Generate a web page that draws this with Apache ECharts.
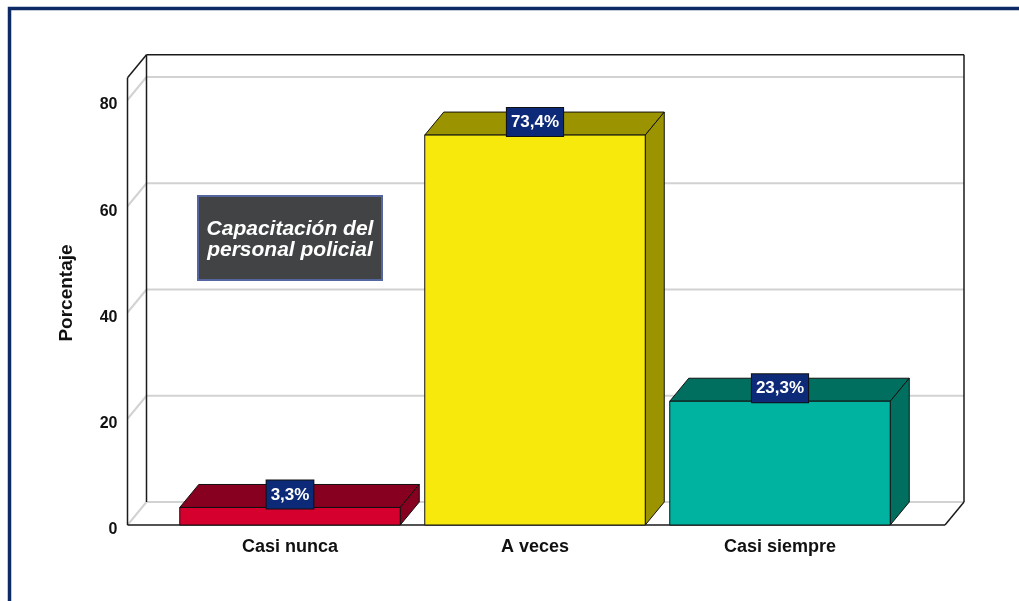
<!DOCTYPE html>
<html><head><meta charset="utf-8">
<script src="https://cdn.jsdelivr.net/npm/echarts@6/dist/echarts.min.js"></script>
<style>html,body{margin:0;padding:0;background:#fff}#c{width:1019px;height:601px}</style>
</head><body><div id="c"></div>
<script>
// ---- data ----
const categories = ['Casi nunca', 'A veces', 'Casi siempre'];
const percentages = [3.3, 73.4, 23.3];
const valueLabels = ['3,3%', '73,4%', '23,3%'];
const yTicks = [0, 20, 40, 60, 80];
const frontColors = ['#d6002f', '#f7e90b', '#00b3a0'];
const shadeColors = ['#870020', '#9b9400', '#006f5f'];
const noteLines = ['Capacitación del', 'personal policial'];
const yTitle = 'Porcentaje';

// ---- layout / style constants ----
const DX = 19, DY = -23;      // 3D depth offset
const BOX_TOP = 84.2;         // value at top of 3D box
const PAD_L = 40, PAD_R = 42.5;
const FONT = '"Liberation Sans", Arial, sans-serif';

const chart = echarts.init(document.getElementById('c'), null, {renderer: 'canvas'});

function wallLines(params, api) {
  const cs = params.coordSys;
  const xL = cs.x - PAD_L, xR = cs.x + cs.width + PAD_R;
  const y = api.coord([0, api.value(1)])[1];
  const st = {stroke: '#d2d2d2', lineWidth: 2};
  return {type: 'group', children: [
    {type: 'line', shape: {x1: xL + DX, y1: y + DY, x2: xR + DX, y2: y + DY}, style: st},
    {type: 'line', shape: {x1: xL, y1: y, x2: xL + DX, y2: y + DY}, style: st}
  ]};
}

function outline(params, api) {
  const cs = params.coordSys;
  const xL = cs.x - PAD_L, xR = cs.x + cs.width + PAD_R;
  const yB = api.coord([0, 0])[1];
  const yT = api.coord([0, BOX_TOP])[1];
  const st = {stroke: '#1a1a1a', lineWidth: 1.5};
  const L = (a, b, c, d) => ({type: 'line', shape: {x1: a, y1: b, x2: c, y2: d}, style: st});
  return {type: 'group', children: [
    L(xL, yT, xL, yB),
    L(xL, yT, xL + DX, yT + DY),
    L(xL + DX, yT + DY, xR + DX, yT + DY),
    L(xL + DX, yT + DY, xL + DX, yB + DY),
    L(xR + DX, yT + DY, xR + DX, yB + DY),
    L(xL, yB, xR, yB),
    L(xR + DX, yB + DY, xR, yB)
  ]};
}

function bar3d(params, api) {
  const i = api.value(0), v = api.value(1);
  const p = api.coord([i, v]);
  const b = api.coord([i, 0]);
  const bw = api.size([1, 0])[0] * 0.9;
  const x = p[0] - bw / 2, y = p[1], w = bw, yb = b[1];
  const line = {stroke: '#111', lineWidth: 1};
  return {type: 'group', children: [
    {type: 'polygon', shape: {points: [[x, y], [x + DX, y + DY], [x + w + DX, y + DY], [x + w, y]]},
      style: Object.assign({fill: shadeColors[i]}, line)},
    {type: 'polygon', shape: {points: [[x + w, y], [x + w + DX, y + DY], [x + w + DX, yb + DY], [x + w, yb]]},
      style: Object.assign({fill: shadeColors[i]}, line)},
    {type: 'rect', shape: {x: x, y: y, width: w, height: yb - y},
      style: Object.assign({fill: frontColors[i]}, line)},
    {type: 'text', z2: 10, style: {
      text: valueLabels[i], x: p[0], y: y + 1, align: 'center', verticalAlign: 'bottom',
      fill: '#fff', fontSize: 17, fontWeight: 'bold', fontFamily: FONT,
      backgroundColor: '#0d2a78', borderColor: '#111', borderWidth: 1,
      padding: [6, 4, 5, 4]
    }}
  ]};
}

const option = {
  animation: false,
  backgroundColor: '#fff',
  grid: {left: 167.5, right: 1019 - 902.5, top: 100, bottom: 76},
  xAxis: {
    type: 'category', data: categories,
    axisLine: {show: false}, axisTick: {show: false}, splitLine: {show: false},
    axisLabel: {fontSize: 18, fontWeight: 'bold', color: '#111', fontFamily: FONT, margin: 13}
  },
  yAxis: {
    type: 'value', min: 0, max: 80, interval: 20,
    axisLine: {show: false}, axisTick: {show: false}, splitLine: {show: false},
    axisLabel: {fontSize: 16, fontWeight: 'bold', color: '#111', fontFamily: FONT, margin: 50,
      verticalAlign: 'top', lineHeight: 18, padding: [-4, 0, 0, 0]}
  },
  series: [
    {type: 'custom', name: 'walls', renderItem: wallLines, data: yTicks.map(v => [0, v]), silent: true, z: 1},
    {type: 'custom', name: 'outline', renderItem: outline, data: [[0, 0]], silent: true, z: 2},
    {type: 'custom', name: 'bars', renderItem: bar3d,
      data: percentages.map((v, i) => [i, v]), z: 3}
  ],
  graphic: [
    {type: 'rect', z: 100, shape: {x: 9.5, y: 8.5, width: 1040, height: 640},
      style: {fill: 'none', stroke: '#0e2a66', lineWidth: 3.5}},
    {type: 'text', x: 67, y: 293, rotation: Math.PI / 2, z: 50,
      style: {text: yTitle, align: 'center', verticalAlign: 'middle', fill: '#111',
        fontSize: 19, fontWeight: 'bold', fontFamily: FONT}},
    {type: 'group', left: 197, top: 195, z: 50, children: [
      {type: 'rect', shape: {x: 0, y: 0, width: 184, height: 84},
        style: {fill: '#414345', stroke: '#55659f', lineWidth: 2}},
      {type: 'text', style: {text: noteLines.join('\n'), x: 92, y: 44, align: 'center', verticalAlign: 'middle',
        fill: '#fff', fontSize: 21, fontWeight: 'bold', fontStyle: 'italic', fontFamily: FONT, lineHeight: 21}}
    ]}
  ]
};
chart.setOption(option);
</script></body></html>
